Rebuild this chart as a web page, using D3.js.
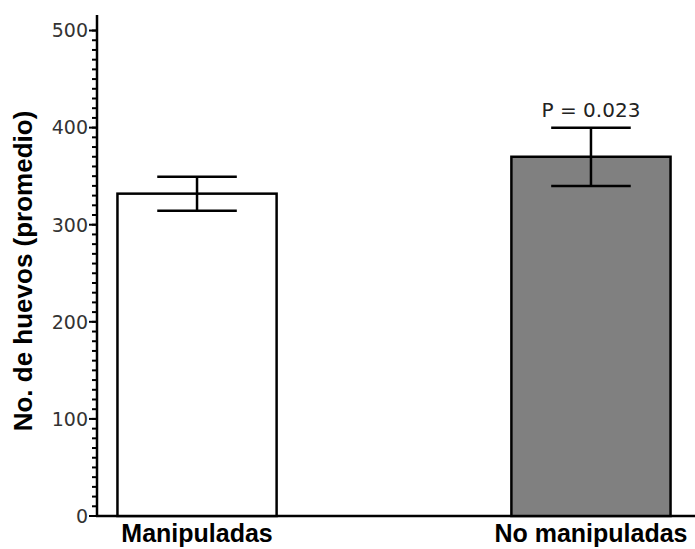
<!DOCTYPE html>
<html>
<head>
<meta charset="utf-8">
<script src="https://cdn.jsdelivr.net/npm/d3@7"></script>
<style>
  body { margin: 0; background: #fff; }
  svg { display: block; }
</style>
</head>
<body>
<svg id="chart" width="695" height="549"></svg>
<script>
var categories = ["Manipuladas", "No manipuladas"];
var means = [332, 370];
var errors = [17.5, 30];
var fills = ["#ffffff", "#808080"];
var majorTicks = [0, 100, 200, 300, 400, 500];
var annotation = "P = 0.023";

var svg = d3.select("#chart");

//scales
var yScale = d3.scaleLinear()
    .domain([0, 516])
    .range([516, 15]);

var xScale = d3.scaleBand()
    .domain(categories)
    .range([95, 693])
    .paddingInner(0.596)
    .paddingOuter(0.057);

var axisX = 97;

//y axis with minor ticks
var yAxis = svg.append("g")
    .attr("transform", `translate(${axisX}, 0)`);

yAxis.append("line")
    .attr("y1", yScale(0) + 1)
    .attr("y2", yScale(516))
    .attr("stroke", "#000")
    .attr("stroke-width", 2.5);

yAxis.selectAll(".minor")
    .data(d3.range(0, 510, 10))
    .enter()
    .append("line")
    .attr("x1", -5)
    .attr("x2", 0)
    .attr("y1", d => yScale(d))
    .attr("y2", d => yScale(d))
    .attr("stroke", "#000")
    .attr("stroke-width", 2);

yAxis.selectAll(".major")
    .data(majorTicks)
    .enter()
    .append("line")
    .attr("x1", -8)
    .attr("x2", 0)
    .attr("y1", d => yScale(d))
    .attr("y2", d => yScale(d))
    .attr("stroke", "#000")
    .attr("stroke-width", 2);

yAxis.selectAll("text")
    .data(majorTicks)
    .enter()
    .append("text")
    .attr("x", -9)
    .attr("y", d => yScale(d))
    .attr("dy", "0.36em")
    .attr("text-anchor", "end")
    .attr("font-family", "DejaVu Sans")
    .attr("font-size", 19)
    .attr("fill", "#333")
    .text(d => d);

//x axis line
svg.append("line")
    .attr("x1", axisX - 1)
    .attr("x2", 695)
    .attr("y1", yScale(0))
    .attr("y2", yScale(0))
    .attr("stroke", "#000")
    .attr("stroke-width", 2.5);

//bars
svg.selectAll(".bar")
    .data(categories)
    .enter()
    .append("rect")
    .attr("class", "bar")
    .attr("x", d => xScale(d))
    .attr("width", xScale.bandwidth())
    .attr("y", (d, i) => yScale(means[i]))
    .attr("height", (d, i) => yScale(0) - yScale(means[i]))
    .attr("fill", (d, i) => fills[i])
    .attr("stroke", "#000")
    .attr("stroke-width", 2.5);

//error bars
var capHalf = xScale.bandwidth() / 4;
categories.forEach((c, i) => {
    var cx = xScale(c) + xScale.bandwidth() / 2;
    var g = svg.append("g")
        .attr("stroke", "#000")
        .attr("stroke-width", 2.5);
    g.append("line")
        .attr("x1", cx).attr("x2", cx)
        .attr("y1", yScale(means[i] + errors[i]))
        .attr("y2", yScale(means[i] - errors[i]));
    [means[i] + errors[i], means[i] - errors[i]].forEach(v => {
        g.append("line")
            .attr("x1", cx - capHalf).attr("x2", cx + capHalf)
            .attr("y1", yScale(v)).attr("y2", yScale(v));
    });
});

//p value above second bar
svg.append("text")
    .attr("x", xScale(categories[1]) + xScale.bandwidth() / 2)
    .attr("y", yScale(means[1] + errors[1]) - 11)
    .attr("text-anchor", "middle")
    .attr("font-family", "DejaVu Sans")
    .attr("font-size", 20)
    .attr("fill", "#222")
    .text(annotation);

//category labels
svg.selectAll(".cat")
    .data(categories)
    .enter()
    .append("text")
    .attr("x", d => xScale(d) + xScale.bandwidth() / 2)
    .attr("y", 542)
    .attr("text-anchor", "middle")
    .attr("font-family", "Liberation Sans, Arial, sans-serif")
    .attr("font-weight", "bold")
    .attr("font-size", 25)
    .attr("fill", "#000")
    .text(d => d);

//y axis title
svg.append("text")
    .attr("transform", "translate(32, 271) rotate(-90)")
    .attr("text-anchor", "middle")
    .attr("font-family", "Liberation Sans, Arial, sans-serif")
    .attr("font-weight", "bold")
    .attr("font-size", 26)
    .attr("fill", "#000")
    .text("No. de huevos (promedio)");
</script>
</body>
</html>
